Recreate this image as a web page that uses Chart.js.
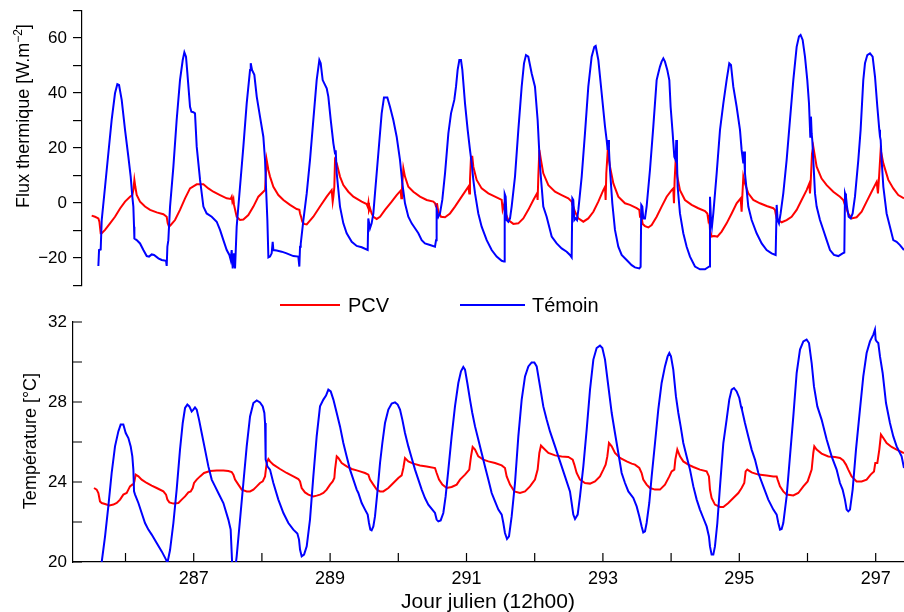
<!DOCTYPE html>
<html lang="fr">
<head>
<meta charset="UTF-8">
<title>Flux thermique et température - PCV / Témoin</title>
<script src="https://cdn.jsdelivr.net/npm/chart.js"></script>
<style>
    body {
        margin: 0;
        background: #fff;
        font-family: 'Liberation Sans', Arial, sans-serif;
        color: #000;
    }

    #wrap {
        position: relative;
        width: 904px;
        height: 612px;
        overflow: hidden;
    }

    canvas {
        position: absolute;
        left: 0;
    }

    #topChart { top: 0; }
    #bottomChart { top: 300px; }

    .ylab {
        position: absolute;
        font-size: 18px;
        line-height: 18px;
        white-space: nowrap;
        transform: translate(-50%, -50%) rotate(-90deg);
    }

    .ylab .sup {
        font-size: 12px;
        line-height: 0;
        vertical-align: 7px;
    }

    .legend-line {
        position: absolute;
        height: 0;
        border-top: 2px solid;
    }

    .legend-text {
        position: absolute;
        font-size: 20px;
        line-height: 20px;
        white-space: nowrap;
    }

    #xlab {
        position: absolute;
        left: 488px;
        top: 590px;
        font-size: 21px;
        line-height: 21px;
        white-space: nowrap;
        transform: translateX(-50%);
    }
</style>
</head>
<body>
<div id="wrap">
    <canvas id="topChart" width="904" height="300" style="width:904px;height:300px"></canvas>
    <canvas id="bottomChart" width="904" height="312" style="width:904px;height:312px"></canvas>

    <div class="ylab" style="left:23px;top:116px">Flux thermique [W.m<span class="sup">−2</span>]</div>
    <div class="ylab" style="left:30px;top:441px">Température [°C]</div>

    <div class="legend-line" style="left:280px;top:304px;width:60px;border-color:#ff0000"></div>
    <div class="legend-text" style="left:348px;top:295px">PCV</div>
    <div class="legend-line" style="left:460px;top:304px;width:65px;border-color:#0000ff"></div>
    <div class="legend-text" style="left:532px;top:295px">Témoin</div>

    <div id="xlab">Jour julien (12h00)</div>
</div>

<script>
    // readings [jour julien, valeur]
    const pcvFlux = [
        [285.504,-4.6],[285.553,-5.0],[285.602,-5.6],[285.617,-6.8],[285.636,-11.0],[285.651,-11.0],[285.700,-9.8],[285.773,-7.4],
        [285.846,-5.0],[285.920,-2.0],[285.993,0.5],[286.066,2.3],[286.100,2.9],[286.115,4.7],[286.130,8.4],[286.144,5.9],
        [286.164,2.9],[286.213,0.5],[286.286,-1.3],[286.360,-2.5],[286.457,-3.4],[286.555,-4.1],[286.604,-5.0],[286.619,-7.4],
        [286.638,-8.6],[286.663,-8.0],[286.726,-6.2],[286.799,-2.5],[286.873,1.7],[286.946,5.3],[287.044,6.8],[287.142,6.8],
        [287.215,5.3],[287.288,4.1],[287.386,2.9],[287.484,1.7],[287.542,1.5],[287.557,2.3],[287.567,0.5],[287.582,1.5],
        [287.591,-0.7],[287.630,-5.0],[287.679,-6.2],[287.728,-6.0],[287.801,-4.4],[287.875,-1.3],[287.948,2.3],[288.021,4.1],
        [288.046,4.7],[288.070,15.6],[288.095,12.0],[288.119,9.6],[288.168,5.9],[288.241,2.9],[288.315,1.1],[288.412,-0.7],
        [288.510,-2.2],[288.549,-2.5],[288.559,-3.8],[288.574,-5.0],[288.593,-6.8],[288.618,-7.6],[288.657,-7.8],[288.754,-5.0],
        [288.852,-1.3],[288.950,2.3],[289.023,4.7],[289.038,0.5],[289.048,2.3],[289.062,5.9],[289.072,15.6],[289.097,14.4],
        [289.145,9.6],[289.194,6.5],[289.267,4.1],[289.341,2.3],[289.463,0.5],[289.536,-0.4],[289.551,-1.3],[289.561,0.1],
        [289.570,-2.8],[289.585,-1.9],[289.609,-3.8],[289.634,-5.0],[289.683,-5.8],[289.732,-5.0],[289.805,-2.5],[289.903,0.5],
        [289.976,2.9],[290.035,4.5],[290.044,1.7],[290.054,5.3],[290.074,12.6],[290.098,9.6],[290.147,5.9],[290.220,4.1],
        [290.318,2.3],[290.416,1.1],[290.514,0.5],[290.538,-0.1],[290.553,-1.3],[290.567,-0.1],[290.587,-3.2],[290.626,-5.0],
        [290.685,-5.2],[290.758,-3.8],[290.831,-1.3],[290.929,2.3],[291.027,5.9],[291.041,3.5],[291.051,8.4],[291.066,16.8],
        [291.085,16.8],[291.100,13.2],[291.149,8.4],[291.222,5.3],[291.320,3.5],[291.418,2.3],[291.516,1.1],[291.530,-2.5],
        [291.550,-0.7],[291.574,-3.8],[291.613,-6.2],[291.687,-7.6],[291.760,-7.4],[291.833,-5.6],[291.906,-2.5],[291.980,1.1],
        [292.034,3.5],[292.043,1.1],[292.053,9.6],[292.068,19.3],[292.092,15.6],[292.126,10.8],[292.200,6.5],[292.298,4.1],
        [292.395,2.9],[292.493,1.7],[292.542,0.5],[292.552,-0.7],[292.566,-1.3],[292.591,-3.2],[292.640,-5.6],[292.713,-6.8],
        [292.786,-5.6],[292.860,-3.2],[292.933,0.5],[293.006,4.7],[293.031,5.9],[293.040,1.1],[293.050,10.8],[293.070,18.7],
        [293.104,13.2],[293.153,7.1],[293.226,2.3],[293.324,-0.1],[293.397,-0.7],[293.495,-1.9],[293.534,-2.5],[293.544,-5.0],
        [293.558,-3.8],[293.583,-7.6],[293.617,-8.4],[293.666,-8.9],[293.715,-8.0],[293.788,-5.0],[293.861,-1.3],[293.935,2.3],
        [294.008,4.7],[294.032,5.3],[294.042,-0.1],[294.052,8.4],[294.067,15.6],[294.091,9.6],[294.130,4.7],[294.203,1.1],
        [294.301,-0.7],[294.399,-1.9],[294.497,-2.9],[294.531,-3.8],[294.546,-6.2],[294.560,-5.0],[294.570,-9.8],[294.594,-12.2],
        [294.629,-12.0],[294.678,-12.2],[294.741,-10.4],[294.814,-7.4],[294.888,-3.8],[294.961,-0.1],[295.020,1.7],[295.034,-3.2],
        [295.044,2.3],[295.059,9.6],[295.083,7.1],[295.132,3.5],[295.205,1.1],[295.303,-0.1],[295.401,-1.1],[295.499,-1.9],
        [295.523,-2.5],[295.533,-3.8],[295.548,-5.6],[295.572,-6.2],[295.621,-7.0],[295.694,-6.2],[295.767,-5.0],[295.841,-2.5],
        [295.914,1.1],[295.987,4.7],[296.027,7.1],[296.036,3.5],[296.046,7.1],[296.066,18.0],[296.085,20.5],[296.134,13.2],
        [296.207,8.9],[296.281,6.5],[296.378,4.1],[296.476,2.3],[296.525,1.1],[296.540,-0.1],[296.559,-1.3],[296.598,-3.8],
        [296.647,-5.6],[296.720,-5.2],[296.794,-3.2],[296.867,0.5],[296.940,4.1],[297.014,7.7],[297.033,3.5],[297.048,8.9],
        [297.073,19.3],[297.112,14.4],[297.185,8.4],[297.258,5.3],[297.331,2.9],[297.415,1.7]
    ];

    const temoinFlux = [
        [285.602,-22.9],[285.612,-17.1],[285.636,-16.9],[285.651,-6.2],[285.700,5.9],[285.748,18.0],[285.797,30.2],[285.846,39.9],
        [285.880,43.2],[285.905,42.9],[285.944,37.5],[285.993,26.6],[286.042,16.8],[286.076,9.6],[286.100,2.3],[286.115,-1.3],
        [286.125,-8.6],[286.130,-12.9],[286.164,-13.5],[286.213,-14.7],[286.262,-17.1],[286.311,-19.3],[286.345,-19.5],[286.384,-18.7],
        [286.418,-18.9],[286.482,-20.1],[286.531,-20.7],[286.594,-21.0],[286.604,-22.9],[286.614,-15.9],[286.628,-13.5],[286.653,-1.3],
        [286.702,13.2],[286.750,30.2],[286.799,44.7],[286.839,52.0],[286.863,54.8],[286.887,53.2],[286.907,47.2],[286.946,35.0],
        [286.966,33.2],[286.995,33.0],[287.019,32.6],[287.044,20.5],[287.093,8.4],[287.142,-1.3],[287.190,-3.8],[287.264,-5.0],
        [287.337,-6.8],[287.386,-9.8],[287.435,-13.5],[287.484,-17.1],[287.523,-18.9],[287.542,-20.7],[287.557,-17.1],[287.572,-23.8],
        [287.591,-18.3],[287.606,-23.8],[287.630,-8.6],[287.679,5.9],[287.728,20.5],[287.777,36.2],[287.826,48.4],[287.836,50.8],
        [287.855,48.4],[287.889,46.6],[287.924,38.7],[287.972,31.4],[288.021,24.1],[288.046,15.6],[288.060,5.9],[288.080,-6.2],
        [288.095,-19.8],[288.119,-19.5],[288.143,-18.3],[288.158,-14.1],[288.168,-17.1],[288.217,-17.3],[288.290,-17.7],[288.363,-18.3],
        [288.461,-19.3],[288.534,-19.5],[288.549,-23.1],[288.559,-15.9],[288.569,-14.9],[288.608,-6.2],[288.657,3.5],[288.705,15.6],
        [288.754,30.2],[288.803,44.7],[288.842,52.0],[288.862,50.8],[288.891,44.7],[288.950,41.7],[288.974,38.7],[289.009,30.2],
        [289.048,21.7],[289.072,18.0],[289.082,19.2],[289.097,10.8],[289.145,-1.3],[289.194,-7.4],[289.243,-11.0],[289.317,-14.1],
        [289.390,-15.6],[289.463,-16.1],[289.551,-17.1],[289.560,-5.6],[289.585,-9.2],[289.609,-7.4],[289.634,-3.8],[289.658,3.5],
        [289.707,18.0],[289.756,32.6],[289.790,38.4],[289.839,38.4],[289.878,35.0],[289.927,30.2],[289.976,24.1],[290.025,15.6],
        [290.059,7.1],[290.098,-0.1],[290.147,-5.0],[290.196,-7.4],[290.245,-9.2],[290.294,-11.0],[290.343,-13.5],[290.391,-14.7],
        [290.465,-15.3],[290.538,-15.9],[290.553,-13.5],[290.562,-2.5],[290.587,-5.0],[290.611,-3.8],[290.645,1.1],[290.685,10.8],
        [290.734,25.3],[290.773,32.6],[290.821,37.5],[290.846,42.3],[290.870,48.4],[290.895,52.0],[290.919,52.0],[290.939,48.4],
        [290.978,36.2],[291.017,26.6],[291.051,19.3],[291.076,14.4],[291.100,8.4],[291.125,3.5],[291.173,-3.8],[291.222,-8.6],
        [291.296,-13.5],[291.369,-17.1],[291.442,-19.5],[291.516,-21.0],[291.550,-21.3],[291.560,3.3],[291.574,2.3],[291.589,-6.2],
        [291.613,-6.8],[291.638,-5.6],[291.662,-1.3],[291.711,9.6],[291.760,26.6],[291.809,42.3],[291.843,50.8],[291.872,53.8],
        [291.906,53.2],[291.955,47.2],[292.004,42.3],[292.043,30.2],[292.063,20.5],[292.078,13.2],[292.102,5.9],[292.126,-1.3],
        [292.175,-5.0],[292.249,-12.2],[292.322,-14.7],[292.395,-16.5],[292.469,-17.7],[292.517,-18.9],[292.542,-19.8],[292.552,1.7],
        [292.566,1.1],[292.581,-6.2],[292.601,-5.6],[292.620,-6.2],[292.640,-2.5],[292.689,9.6],[292.737,25.3],[292.786,42.3],
        [292.835,53.2],[292.874,56.8],[292.894,57.1],[292.933,52.0],[292.982,39.9],[293.031,27.8],[293.055,22.9],[293.070,19.3],
        [293.080,22.9],[293.089,19.3],[293.104,12.0],[293.138,-0.1],[293.177,-9.8],[293.226,-15.9],[293.275,-18.9],[293.348,-20.7],
        [293.422,-22.6],[293.470,-23.4],[293.534,-23.8],[293.553,-23.2],[293.563,-0.7],[293.578,-1.3],[293.592,-5.6],[293.617,-5.6],
        [293.641,-1.3],[293.690,12.0],[293.739,27.8],[293.788,44.7],[293.812,47.2],[293.837,49.6],[293.861,51.4],[293.886,52.6],
        [293.910,51.4],[293.944,48.4],[293.974,44.7],[293.993,35.0],[294.023,25.3],[294.047,16.8],[294.067,15.6],[294.076,22.9],
        [294.086,15.6],[294.096,5.9],[294.130,-3.8],[294.179,-11.0],[294.228,-15.9],[294.277,-19.5],[294.350,-23.1],[294.423,-24.1],
        [294.497,-24.1],[294.560,-23.1],[294.570,2.3],[294.585,-6.2],[294.599,-8.6],[294.619,-3.8],[294.668,10.8],[294.717,26.6],
        [294.766,36.2],[294.814,44.7],[294.853,50.8],[294.878,50.2],[294.912,42.3],[294.961,35.0],[295.010,26.6],[295.034,19.3],
        [295.059,14.4],[295.069,18.7],[295.083,10.8],[295.108,4.7],[295.132,-1.3],[295.181,-6.2],[295.254,-11.0],[295.328,-14.7],
        [295.401,-17.1],[295.474,-18.3],[295.533,-18.9],[295.548,-0.7],[295.562,-6.2],[295.582,-7.4],[295.606,-3.8],[295.645,3.5],
        [295.694,15.6],[295.743,30.2],[295.792,44.7],[295.841,56.8],[295.875,60.5],[295.899,61.1],[295.929,59.3],[295.963,53.2],
        [295.997,44.7],[296.022,36.2],[296.041,24.1],[296.051,31.4],[296.061,25.3],[296.070,22.9],[296.085,15.6],[296.110,3.5],
        [296.134,-1.3],[296.183,-6.2],[296.232,-9.8],[296.281,-13.5],[296.330,-17.1],[296.388,-18.9],[296.452,-19.3],[296.515,-18.3],
        [296.540,-18.0],[296.550,3.5],[296.564,2.3],[296.579,-1.3],[296.603,-5.0],[296.633,-5.6],[296.662,-3.8],[296.696,2.3],
        [296.745,15.6],[296.779,26.6],[296.818,44.7],[296.843,50.8],[296.877,53.8],[296.916,54.4],[296.955,53.2],[296.990,45.9],
        [297.024,35.0],[297.053,26.6],[297.063,24.1],[297.073,22.9],[297.087,15.6],[297.112,5.9],[297.160,-3.8],[297.209,-8.6],
        [297.258,-13.5],[297.307,-14.1],[297.356,-15.3],[297.415,-17.1]
    ];

    const pcvTemp = [
        [285.538,23.70],[285.577,23.62],[285.602,23.45],[285.626,23.03],[285.651,22.95],[285.700,22.90],[285.763,22.83],[285.822,22.87],
        [285.871,22.95],[285.920,23.12],[285.968,23.37],[286.017,23.45],[286.042,23.62],[286.066,23.78],[286.100,23.87],[286.115,23.87],
        [286.130,24.03],[286.149,24.37],[286.189,24.28],[286.237,24.12],[286.311,23.95],[286.384,23.82],[286.457,23.70],[286.555,23.53],
        [286.594,23.37],[286.614,23.12],[286.643,22.98],[286.702,22.92],[286.775,22.95],[286.824,23.12],[286.873,23.28],[286.922,23.48],
        [286.956,23.53],[286.985,23.70],[287.005,23.95],[287.044,24.12],[287.093,24.28],[287.151,24.45],[287.239,24.55],[287.337,24.58],
        [287.435,24.58],[287.508,24.55],[287.557,24.50],[287.582,24.37],[287.606,24.12],[287.655,23.87],[287.704,23.62],[287.777,23.53],
        [287.826,23.53],[287.875,23.62],[287.924,23.78],[287.972,23.95],[288.012,24.03],[288.046,24.28],[288.070,24.95],[288.095,25.15],
        [288.119,25.03],[288.168,24.87],[288.266,24.65],[288.363,24.45],[288.461,24.28],[288.534,24.15],[288.559,24.03],[288.583,23.70],
        [288.632,23.48],[288.681,23.37],[288.754,23.28],[288.803,23.32],[288.852,23.37],[288.901,23.45],[288.950,23.62],[288.999,23.87],
        [289.038,24.03],[289.062,24.20],[289.072,24.62],[289.097,25.28],[289.121,25.20],[289.170,24.95],[289.243,24.78],[289.317,24.65],
        [289.390,24.58],[289.438,24.53],[289.512,24.45],[289.561,24.37],[289.585,24.12],[289.634,23.87],[289.683,23.62],[289.732,23.53],
        [289.780,23.53],[289.854,23.70],[289.927,23.95],[290.000,24.20],[290.049,24.33],[290.074,24.70],[290.098,25.20],[290.147,25.03],
        [290.220,24.92],[290.318,24.83],[290.416,24.78],[290.538,24.70],[290.562,24.45],[290.597,24.12],[290.646,23.87],[290.709,23.70],
        [290.782,23.75],[290.856,23.87],[290.905,24.12],[290.978,24.37],[291.041,24.62],[291.066,25.28],[291.090,25.75],[291.125,25.62],
        [291.173,25.28],[291.247,25.12],[291.320,25.03],[291.418,24.95],[291.516,24.83],[291.564,24.70],[291.589,24.28],[291.638,23.87],
        [291.701,23.53],[291.784,23.45],[291.858,23.53],[291.931,23.78],[292.004,24.12],[292.043,24.62],[292.068,25.45],[292.092,25.82],
        [292.126,25.70],[292.200,25.45],[292.298,25.33],[292.395,25.28],[292.493,25.25],[292.557,25.12],[292.581,24.87],[292.615,24.45],
        [292.664,24.12],[292.737,23.95],[292.811,23.92],[292.884,24.03],[292.957,24.28],[293.006,24.62],[293.040,24.87],[293.065,25.28],
        [293.089,25.95],[293.129,25.78],[293.177,25.45],[293.251,25.20],[293.348,25.03],[293.422,24.92],[293.470,24.87],[293.534,24.70],
        [293.568,24.45],[293.592,24.12],[293.641,23.87],[293.690,23.70],[293.764,23.62],[293.837,23.62],[293.910,23.87],[293.974,24.28],
        [294.008,24.53],[294.047,24.62],[294.062,25.12],[294.091,25.62],[294.130,25.28],[294.179,25.03],[294.252,24.87],[294.326,24.75],
        [294.423,24.62],[294.521,24.53],[294.555,24.28],[294.570,23.62],[294.594,23.20],[294.643,22.87],[294.717,22.75],[294.766,22.75],
        [294.839,22.95],[294.912,23.20],[294.986,23.45],[295.034,23.70],[295.073,23.95],[295.093,24.53],[295.117,24.62],[295.181,24.48],
        [295.279,24.37],[295.401,24.32],[295.499,24.28],[295.548,24.28],[295.562,24.12],[295.596,23.78],[295.645,23.53],[295.694,23.37],
        [295.792,23.33],[295.865,23.45],[295.939,23.78],[296.002,24.03],[296.036,24.37],[296.061,24.62],[296.085,25.45],[296.100,25.78],
        [296.134,25.62],[296.207,25.42],[296.305,25.28],[296.403,25.25],[296.476,25.20],[296.525,25.08],[296.564,24.87],[296.598,24.62],
        [296.647,24.28],[296.720,24.03],[296.794,24.03],[296.867,24.12],[296.926,24.37],[296.975,24.53],[296.994,24.95],[297.024,24.95],
        [297.053,25.62],[297.077,26.37],[297.112,26.20],[297.160,25.95],[297.233,25.75],[297.307,25.62],[297.380,25.50],[297.415,25.45]
    ];

    const temoinTemp = [
        [285.602,19.0],[285.651,20.0],[285.700,21.28],[285.748,22.78],[285.797,24.45],[285.846,25.78],[285.895,26.53],[285.929,26.87],
        [285.968,26.87],[286.003,26.45],[286.042,26.20],[286.076,25.78],[286.100,25.28],[286.115,24.62],[286.125,23.53],[286.140,23.37],
        [286.189,22.95],[286.237,22.45],[286.286,21.95],[286.335,21.62],[286.384,21.37],[286.457,20.95],[286.531,20.53],[286.594,20.12],
        [286.614,19.95],[286.653,20.6],[286.702,21.95],[286.750,23.62],[286.799,25.62],[286.839,26.95],[286.873,27.70],[286.907,27.87],
        [286.936,27.78],[286.970,27.53],[286.995,27.62],[287.019,27.73],[287.044,27.62],[287.078,27.12],[287.117,26.45],[287.166,25.62],
        [287.215,24.78],[287.264,24.12],[287.313,23.78],[287.361,23.45],[287.435,22.95],[287.508,22.12],[287.542,21.62],[287.557,20.45],
        [287.570,19.4],[287.600,19.4],[287.630,20.28],[287.679,22.12],[287.728,23.95],[287.777,25.78],[287.826,27.28],[287.875,27.95],
        [287.924,28.08],[287.972,27.98],[288.012,27.78],[288.036,27.45],[288.046,26.95],[288.055,25.12],[288.070,24.95],[288.080,24.78],
        [288.119,24.62],[288.168,23.95],[288.241,23.12],[288.315,22.45],[288.388,21.95],[288.461,21.62],[288.520,21.42],[288.544,21.12],
        [288.559,20.62],[288.583,20.28],[288.618,20.37],[288.657,20.78],[288.705,22.12],[288.754,24.28],[288.803,26.28],[288.852,27.78],
        [288.901,28.12],[288.940,28.32],[288.974,28.62],[289.009,28.53],[289.048,28.12],[289.097,27.45],[289.145,26.78],[289.194,25.95],
        [289.243,25.28],[289.292,24.62],[289.341,24.12],[289.390,23.62],[289.414,23.45],[289.463,22.95],[289.512,22.62],[289.551,22.37],
        [289.570,21.95],[289.590,21.62],[289.609,21.58],[289.634,21.78],[289.658,22.28],[289.697,23.62],[289.732,24.95],[289.766,25.95],
        [289.805,26.95],[289.854,27.62],[289.903,27.92],[289.952,27.98],[289.991,27.87],[290.025,27.62],[290.059,27.12],[290.098,26.45],
        [290.147,25.78],[290.196,25.20],[290.245,24.62],[290.294,24.12],[290.343,23.62],[290.391,23.20],[290.440,22.87],[290.499,22.62],
        [290.538,22.45],[290.562,22.12],[290.587,22.03],[290.621,22.08],[290.660,22.45],[290.694,23.28],[290.734,24.62],[290.782,26.28],
        [290.831,27.78],[290.880,28.95],[290.919,29.53],[290.953,29.75],[290.978,29.62],[291.012,28.95],[291.051,28.12],[291.085,27.45],
        [291.125,26.78],[291.173,26.12],[291.222,25.45],[291.271,24.78],[291.320,24.12],[291.369,23.45],[291.418,23.03],[291.467,22.62],
        [291.516,22.37],[291.540,21.95],[291.564,21.45],[291.594,21.15],[291.623,21.28],[291.662,22.28],[291.711,23.95],[291.760,26.28],
        [291.809,28.12],[291.858,29.28],[291.907,29.78],[291.955,29.98],[291.995,29.98],[292.029,29.78],[292.078,28.78],[292.126,27.78],
        [292.175,27.12],[292.224,26.53],[292.298,25.78],[292.371,25.03],[292.444,24.28],[292.517,23.53],[292.542,22.95],[292.566,22.37],
        [292.591,22.15],[292.630,22.37],[292.664,23.28],[292.713,24.78],[292.762,26.62],[292.811,28.62],[292.860,30.12],[292.908,30.70],
        [292.957,30.82],[292.992,30.70],[293.031,30.12],[293.080,28.78],[293.129,27.45],[293.177,26.45],[293.226,25.45],[293.275,24.45],
        [293.324,23.95],[293.373,23.53],[293.446,23.20],[293.495,22.78],[293.534,22.28],[293.568,21.78],[293.592,21.48],[293.617,21.53],
        [293.641,21.95],[293.680,22.95],[293.715,24.28],[293.764,25.95],[293.812,27.62],[293.861,28.95],[293.910,29.78],[293.949,30.28],
        [293.974,30.45],[293.998,30.28],[294.032,29.62],[294.071,28.28],[294.106,27.45],[294.140,26.78],[294.179,25.95],[294.228,25.28],
        [294.277,24.62],[294.326,23.78],[294.375,23.12],[294.423,22.62],[294.472,22.20],[294.521,21.78],[294.555,21.28],[294.570,20.78],
        [294.594,20.37],[294.619,20.37],[294.643,20.78],[294.678,21.95],[294.717,23.78],[294.766,25.95],[294.814,27.12],[294.853,28.12],
        [294.888,28.62],[294.922,28.70],[294.961,28.53],[295.000,28.20],[295.025,27.78],[295.039,27.62],[295.083,26.95],[295.132,26.28],
        [295.181,25.62],[295.230,25.12],[295.279,24.45],[295.352,23.78],[295.425,23.12],[295.499,22.62],[295.548,22.37],[295.572,21.95],
        [295.597,21.62],[295.621,21.65],[295.645,21.95],[295.694,23.28],[295.743,25.28],[295.792,27.28],[295.841,29.45],[295.890,30.62],
        [295.939,31.03],[295.987,31.12],[296.022,30.95],[296.061,29.95],[296.095,28.78],[296.144,27.78],[296.207,27.12],[296.281,26.12],
        [296.354,25.28],[296.427,24.62],[296.476,23.95],[296.515,23.62],[296.549,23.12],[296.574,22.62],[296.598,22.53],[296.623,22.62],
        [296.662,23.62],[296.711,25.62],[296.769,27.62],[296.818,29.28],[296.867,30.45],[296.916,31.03],[296.965,31.37],[296.989,31.62],
        [296.999,31.12],[297.014,31.03],[297.038,30.95],[297.063,30.28],[297.102,29.45],[297.151,27.95],[297.209,26.95],[297.258,26.28],
        [297.307,25.78],[297.380,25.28],[297.415,24.70]
    ];

    const dayTicks = [286, 287, 288, 289, 290, 291, 292, 293, 294, 295, 296, 297];
    const dayLabels = [287, 289, 291, 293, 295, 297];
    const fluxTicks = [-30, -20, -10, 0, 10, 20, 30, 40, 50, 60, 70];
    const fluxLabels = [-20, 0, 20, 40, 60];
    const tempTicks = [20, 22, 24, 26, 28, 30, 32];
    const tempLabels = [20, 24, 28, 32];

    const FONT = "'Liberation Sans', Arial, sans-serif";
    Chart.defaults.font.family = FONT;
    Chart.defaults.color = '#000';
    Chart.defaults.animation = false;

    const fmt = v => (v < 0 ? '\u2212' + Math.abs(v) : String(v));
    const toXY = rows => rows.map(r => ({ x: r[0], y: r[1] }));

    function line(rows, color, order) {
        return {
            data: toXY(rows),
            borderColor: color,
            borderWidth: 2,
            pointRadius: 0,
            fill: false,
            tension: 0,
            order: order
        };
    }

    // keep the layout from reserving room for half tick labels
    function noPad(s) {
        s.paddingTop = 0;
        s.paddingBottom = 0;
        s.paddingLeft = 0;
        s.paddingRight = 0;
    }

    // top panel: flux, ticks pointing out
    new Chart(document.getElementById('topChart'), {
        type: 'line',
        data: {
            datasets: [line(temoinFlux, '#0000ff', 0), line(pcvFlux, '#ff0000', 1)]
        },
        options: {
            responsive: false,
            layout: { padding: { top: 10.5, bottom: 14.5, left: 0, right: 0 } },
            plugins: { legend: { display: false }, tooltip: { enabled: false } },
            scales: {
                x: { type: 'linear', display: false, min: 285.362, max: 297.415 },
                y: {
                    min: -30,
                    max: 70,
                    afterBuildTicks: s => { s.ticks = fluxTicks.map(v => ({ value: v })); },
                    afterFit: s => { s.width = 82; noPad(s); },
                    grid: { drawOnChartArea: false, drawTicks: true, tickLength: 9, color: '#000', lineWidth: 1.2 },
                    border: { display: true, color: '#000', width: 1.2 },
                    ticks: {
                        padding: 6,
                        font: { size: 17 },
                        callback: v => fluxLabels.includes(v) ? fmt(v) : ''
                    }
                }
            }
        }
    });

    // bottom panel ticks point into the plot
    const inwardTicks = {
        id: 'inwardTicks',
        afterDraw(chart) {
            const { ctx, chartArea, scales } = chart;
            ctx.save();
            ctx.strokeStyle = '#000';
            ctx.lineWidth = 1.2;
            ctx.beginPath();
            scales.x.ticks.forEach(t => {
                const px = scales.x.getPixelForValue(t.value);
                ctx.moveTo(px, chartArea.bottom);
                ctx.lineTo(px, chartArea.bottom - 9);
            });
            scales.y.ticks.forEach(t => {
                const py = scales.y.getPixelForValue(t.value);
                ctx.moveTo(chartArea.left, py);
                ctx.lineTo(chartArea.left + 9, py);
            });
            ctx.stroke();
            ctx.restore();
        }
    };

    new Chart(document.getElementById('bottomChart'), {
        type: 'line',
        data: {
            datasets: [line(temoinTemp, '#0000ff', 0), line(pcvTemp, '#ff0000', 1)]
        },
        options: {
            responsive: false,
            layout: { padding: { top: 22, bottom: 0, left: 0, right: 0 } },
            plugins: { legend: { display: false }, tooltip: { enabled: false } },
            scales: {
                x: {
                    type: 'linear',
                    min: 285.23,
                    max: 297.415,
                    afterBuildTicks: s => { s.ticks = dayTicks.map(v => ({ value: v })); },
                    afterFit: s => { s.height = 50; noPad(s); },
                    grid: { display: false, drawTicks: false },
                    border: { display: true, color: '#000', width: 1.2 },
                    ticks: {
                        autoSkip: false,
                        maxRotation: 0,
                        padding: 6,
                        font: { size: 18 },
                        callback: v => dayLabels.includes(v) ? String(v) : ''
                    }
                },
                y: {
                    min: 20,
                    max: 32,
                    afterBuildTicks: s => { s.ticks = tempTicks.map(v => ({ value: v })); },
                    afterFit: s => { s.width = 73; noPad(s); },
                    grid: { display: false, drawTicks: false },
                    border: { display: true, color: '#000', width: 1.2 },
                    ticks: {
                        padding: 6,
                        font: { size: 17 },
                        callback: v => tempLabels.includes(v) ? String(v) : ''
                    }
                }
            }
        },
        plugins: [inwardTicks]
    });
</script>
</body>
</html>
